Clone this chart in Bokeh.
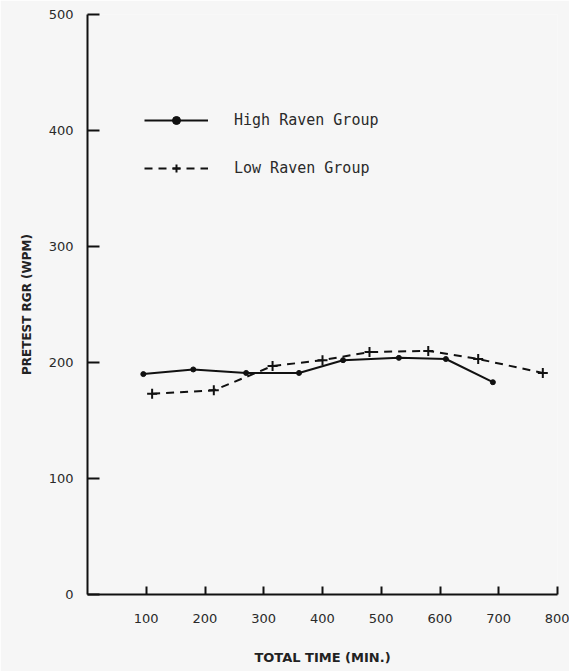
from bokeh.plotting import figure
from bokeh.models import Legend, LegendItem, FixedTicker, ColumnDataSource
from bokeh.embed import file_html
from bokeh.resources import INLINE

# Pretest RGR (words per minute) against total time (minutes)
high_time = [95, 180, 270, 360, 435, 530, 610, 690]
high_rgr = [190, 194, 191, 191, 202, 204, 203, 183]

low_time = [110, 215, 315, 400, 480, 580, 665, 775]
low_rgr = [173, 176, 197, 202, 209, 210, 203, 191]

x_ticks = [100, 200, 300, 400, 500, 600, 700, 800]
y_ticks = [0, 100, 200, 300, 400, 500]

PAPER = "#f6f6f6"
INK = "#111111"

p = figure(
    width=569, height=671,
    x_range=(0, 800), y_range=(0, 500),
    output_backend="svg", toolbar_location=None,
    min_border_left=87, min_border_right=12,
    min_border_top=14, min_border_bottom=77,
)
p.background_fill_color = PAPER
p.border_fill_color = PAPER
p.outline_line_color = None
p.xgrid.visible = False
p.ygrid.visible = False

high_src = ColumnDataSource(dict(x=high_time, y=high_rgr))
low_src = ColumnDataSource(dict(x=low_time, y=low_rgr))

hl = p.line("x", "y", source=high_src, line_color=INK, line_width=2)
hs = p.scatter("x", "y", source=high_src, marker="circle", size=5,
               fill_color=INK, line_color=INK)
ll = p.line("x", "y", source=low_src, line_color=INK, line_width=2,
            line_dash="8 6")
ls = p.scatter("x", "y", source=low_src, marker="cross", size=10,
               line_color=INK, line_width=2)

# axes
for ax in (p.xaxis[0], p.yaxis[0]):
    ax.axis_line_color = INK
    ax.axis_line_width = 2
    ax.major_tick_line_color = INK
    ax.major_tick_line_width = 2
    ax.minor_tick_line_color = None
    ax.major_tick_out = 0
    ax.major_label_text_font = "DejaVu Sans"
    ax.major_label_text_font_size = "13px"
    ax.major_label_text_color = "#2a2a2a"
    ax.axis_label_text_font = "DejaVu Sans"
    ax.axis_label_text_font_style = "bold"
    ax.axis_label_text_color = "#222222"

p.xaxis.ticker = FixedTicker(ticks=x_ticks)
p.yaxis.ticker = FixedTicker(ticks=y_ticks)
p.xaxis.major_tick_in = 8
p.yaxis.major_tick_in = 12
p.xaxis.major_label_standoff = 19
p.yaxis.major_label_standoff = 14

p.xaxis.axis_label = "TOTAL TIME (MIN.)"
p.xaxis.axis_label_text_font_size = "13px"
p.xaxis.axis_label_standoff = 24
p.yaxis.axis_label = "PRETEST RGR (WPM)"
p.yaxis.axis_label_text_font_size = "12px"
p.yaxis.axis_label_standoff = 12

legend = Legend(
    items=[
        LegendItem(label="High Raven Group", renderers=[hl, hs]),
        LegendItem(label="Low Raven Group", renderers=[ll, ls]),
    ],
    location=(57, 416),
    orientation="vertical",
    padding=0, margin=0, spacing=28,
    glyph_width=64, glyph_height=20, label_height=20,
    label_standoff=26,
    label_text_font="DejaVu Sans Mono",
    label_text_font_size="15px",
    label_text_color="#2a2a2a",
    border_line_color=None,
    background_fill_alpha=0,
)
p.add_layout(legend, "center")

open("out.html", "w").write(file_html(p, INLINE))
